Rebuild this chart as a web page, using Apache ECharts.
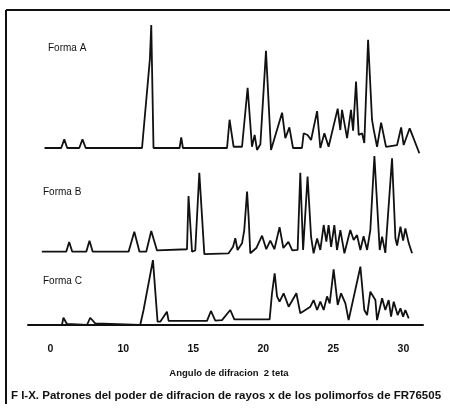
<!DOCTYPE html>
<html><head><meta charset="utf-8">
<script src="https://cdn.jsdelivr.net/npm/echarts@6/dist/echarts.min.js"></script>
<style>html,body{margin:0;padding:0;background:#fff}#c{width:450px;height:408px}</style>
</head><body><div id="c"></div>
<script>
// Diffraction angle (2 theta) and relative intensity
const formaA = [[4.38,0],[5.57,0],[5.79,7],[6.0,0],[6.86,0],[7.09,7],[7.32,0],[11.34,0],[11.9,72],[12.0,100],[12.16,0],[14.02,0],[14.14,8.7],[14.26,0],[17.41,0],[17.59,23],[17.88,1],[18.48,1],[18.88,49],[19.19,1],[19.38,10.6],[19.55,-1.6],[19.79,3],[20.19,79],[20.55,-1.6],[21.34,28.7],[21.57,8],[21.86,16.8],[22.12,0],[22.76,0],[22.88,12],[23.16,10.6],[23.41,6.5],[23.84,30],[24.07,0],[24.36,12],[24.66,1],[25.31,32],[25.5,14.6],[25.62,31],[25.98,8],[26.26,31],[26.41,14],[26.62,54],[26.81,10.6],[27.05,12],[27.21,4],[27.48,88],[27.76,23],[27.88,15],[28.12,1],[28.41,20.6],[28.76,1],[29.55,2.4],[29.84,16.8],[30.02,2.4],[30.14,4],[30.45,16],[31.14,-4.3]];
const formaB = [[4.19,0],[5.93,0],[6.14,7.9],[6.36,0],[7.36,0],[7.59,8.9],[7.82,0],[10.38,0],[10.79,16.3],[11.16,0],[11.64,0],[12.0,16.8],[12.41,1],[14.55,2],[14.66,45.3],[14.91,0],[15.14,1],[15.43,64.2],[15.79,-2],[17.52,-1.3],[17.64,-0.8],[17.84,4],[18.0,10.9],[18.16,1.4],[18.48,6.8],[18.64,17.6],[18.84,48.8],[18.95,28.2],[19.07,-1.3],[19.5,3],[19.91,13],[20.21,2],[20.5,9],[20.79,2],[21.16,20],[21.43,3],[21.79,8],[22.07,1],[22.45,1.4],[22.64,64.2],[22.84,1.4],[23.16,61],[23.41,12],[23.59,-1.3],[23.84,10.8],[24.07,1.4],[24.31,21.7],[24.5,8.2],[24.66,21.7],[24.84,4],[25.07,21.7],[25.26,1.4],[25.5,17.6],[25.79,-1.3],[26.21,17.6],[26.45,9.5],[26.69,13.5],[26.93,1.4],[27.16,12.5],[27.41,1.4],[27.64,17.6],[27.93,77.8],[28.31,1.4],[28.48,12.2],[28.71,-1],[29.19,76],[29.43,10.9],[29.55,5],[29.79,20.3],[29.98,9],[30.14,19],[30.38,7],[30.62,-1.3]];
const formaC = [[4.07,0],[5.62,0],[5.73,5.9],[5.98,0.8],[7.41,0],[7.64,5.9],[8.0,1.4],[11.21,0],[11.45,12.2],[12.12,52.8],[12.45,2.7],[12.64,2.7],[13.12,10.8],[13.24,3.3],[15.98,3.3],[16.26,11.4],[16.57,3.5],[17.05,4],[17.64,12.2],[17.93,4.6],[20.45,4.6],[20.62,25.8],[20.81,42],[20.98,23.3],[21.16,19],[21.45,25.8],[21.81,14.9],[22.36,25.8],[22.64,9.5],[23.36,14.9],[23.59,20.3],[23.84,12.2],[24.07,19],[24.31,12.2],[24.55,23.3],[24.74,17.6],[25.02,45.3],[25.31,16.3],[25.55,25.8],[25.86,17.6],[26.09,4],[26.93,47.4],[27.21,12.2],[27.41,8.1],[27.64,27.1],[28.0,20.3],[28.12,4],[28.48,21.7],[28.71,12.2],[28.95,20.3],[29.12,6.8],[29.31,19],[29.59,8.1],[29.79,13.5],[29.98,6.8],[30.14,12.2],[30.38,5.4]];
const seriesNames = ['Forma A','Forma B','Forma C'];
const tickValues = [4.8,10,15,20,25,30];
const tickLabels = ['0','10','15','20','25','30'];
const axisTitle = 'Angulo de difracion  2 teta';
const caption = 'F I-X. Patrones del poder de difracion de rayos x de los polimorfos de FR76505';

const FONT = 'Liberation Sans';
const chart = echarts.init(document.getElementById('c'), null, {renderer:'canvas'});
const xmin = 3.2, xmax = 31.4;
const grids = [
  {left:28, right:27, top:25, height:135.3},
  {left:28, right:27, top:128.7, height:135.3},
  {left:28, right:27, top:202, height:131}
];
const yMins = [-10,-10,-6.5];
const datas = [formaA, formaB, formaC];
const option = {
  animation:false,
  backgroundColor:'#fff',
  grid: grids,
  xAxis: grids.map((g,i)=>({
    type:'value', gridIndex:i, min:xmin, max:xmax,
    show: i===2,
    axisLine:{show:true, lineStyle:{color:'#111', width:2}},
    axisTick:{show:false},
    splitLine:{show:false},
    axisLabel:{
      customValues: tickValues,
      formatter:(v)=>{ const k = tickValues.findIndex(t=>Math.abs(t-v)<1e-6); return k>=0?tickLabels[k]:''; },
      color:'#111', fontFamily:FONT, fontWeight:'bold', fontSize:10.5, margin:11
    }
  })),
  yAxis: grids.map((g,i)=>({type:'value', gridIndex:i, min:yMins[i], max:100, show:false})),
  series: datas.map((d,i)=>({
    type:'line', name:seriesNames[i], xAxisIndex:i, yAxisIndex:i, data:d,
    showSymbol:false, clip:false,
    lineStyle:{color:'#111', width:1.8}
  })),
  graphic:[
    {type:'line', shape:{x1:6, y1:10, x2:450, y2:10}, style:{stroke:'#111', lineWidth:2}},
    {type:'line', shape:{x1:6, y1:10, x2:6, y2:404}, style:{stroke:'#111', lineWidth:2}},
    {type:'text', left:48, top:43, style:{text:seriesNames[0], font:'10px "Liberation Sans"', fill:'#111'}},
    {type:'text', left:43, top:187, style:{text:seriesNames[1], font:'10px "Liberation Sans"', fill:'#111'}},
    {type:'text', left:43, top:276, style:{text:seriesNames[2], font:'10px "Liberation Sans"', fill:'#111'}},
    {type:'text', x:229, y:373, style:{text:axisTitle, font:'bold 9.5px "Liberation Sans"', fill:'#111', textAlign:'center', textVerticalAlign:'middle'}},
    {type:'text', x:226, y:396, style:{text:caption, font:'bold 11.5px "Liberation Sans"', fill:'#111', textAlign:'center', textVerticalAlign:'middle'}}
  ]
};
chart.setOption(option);
</script></body></html>
